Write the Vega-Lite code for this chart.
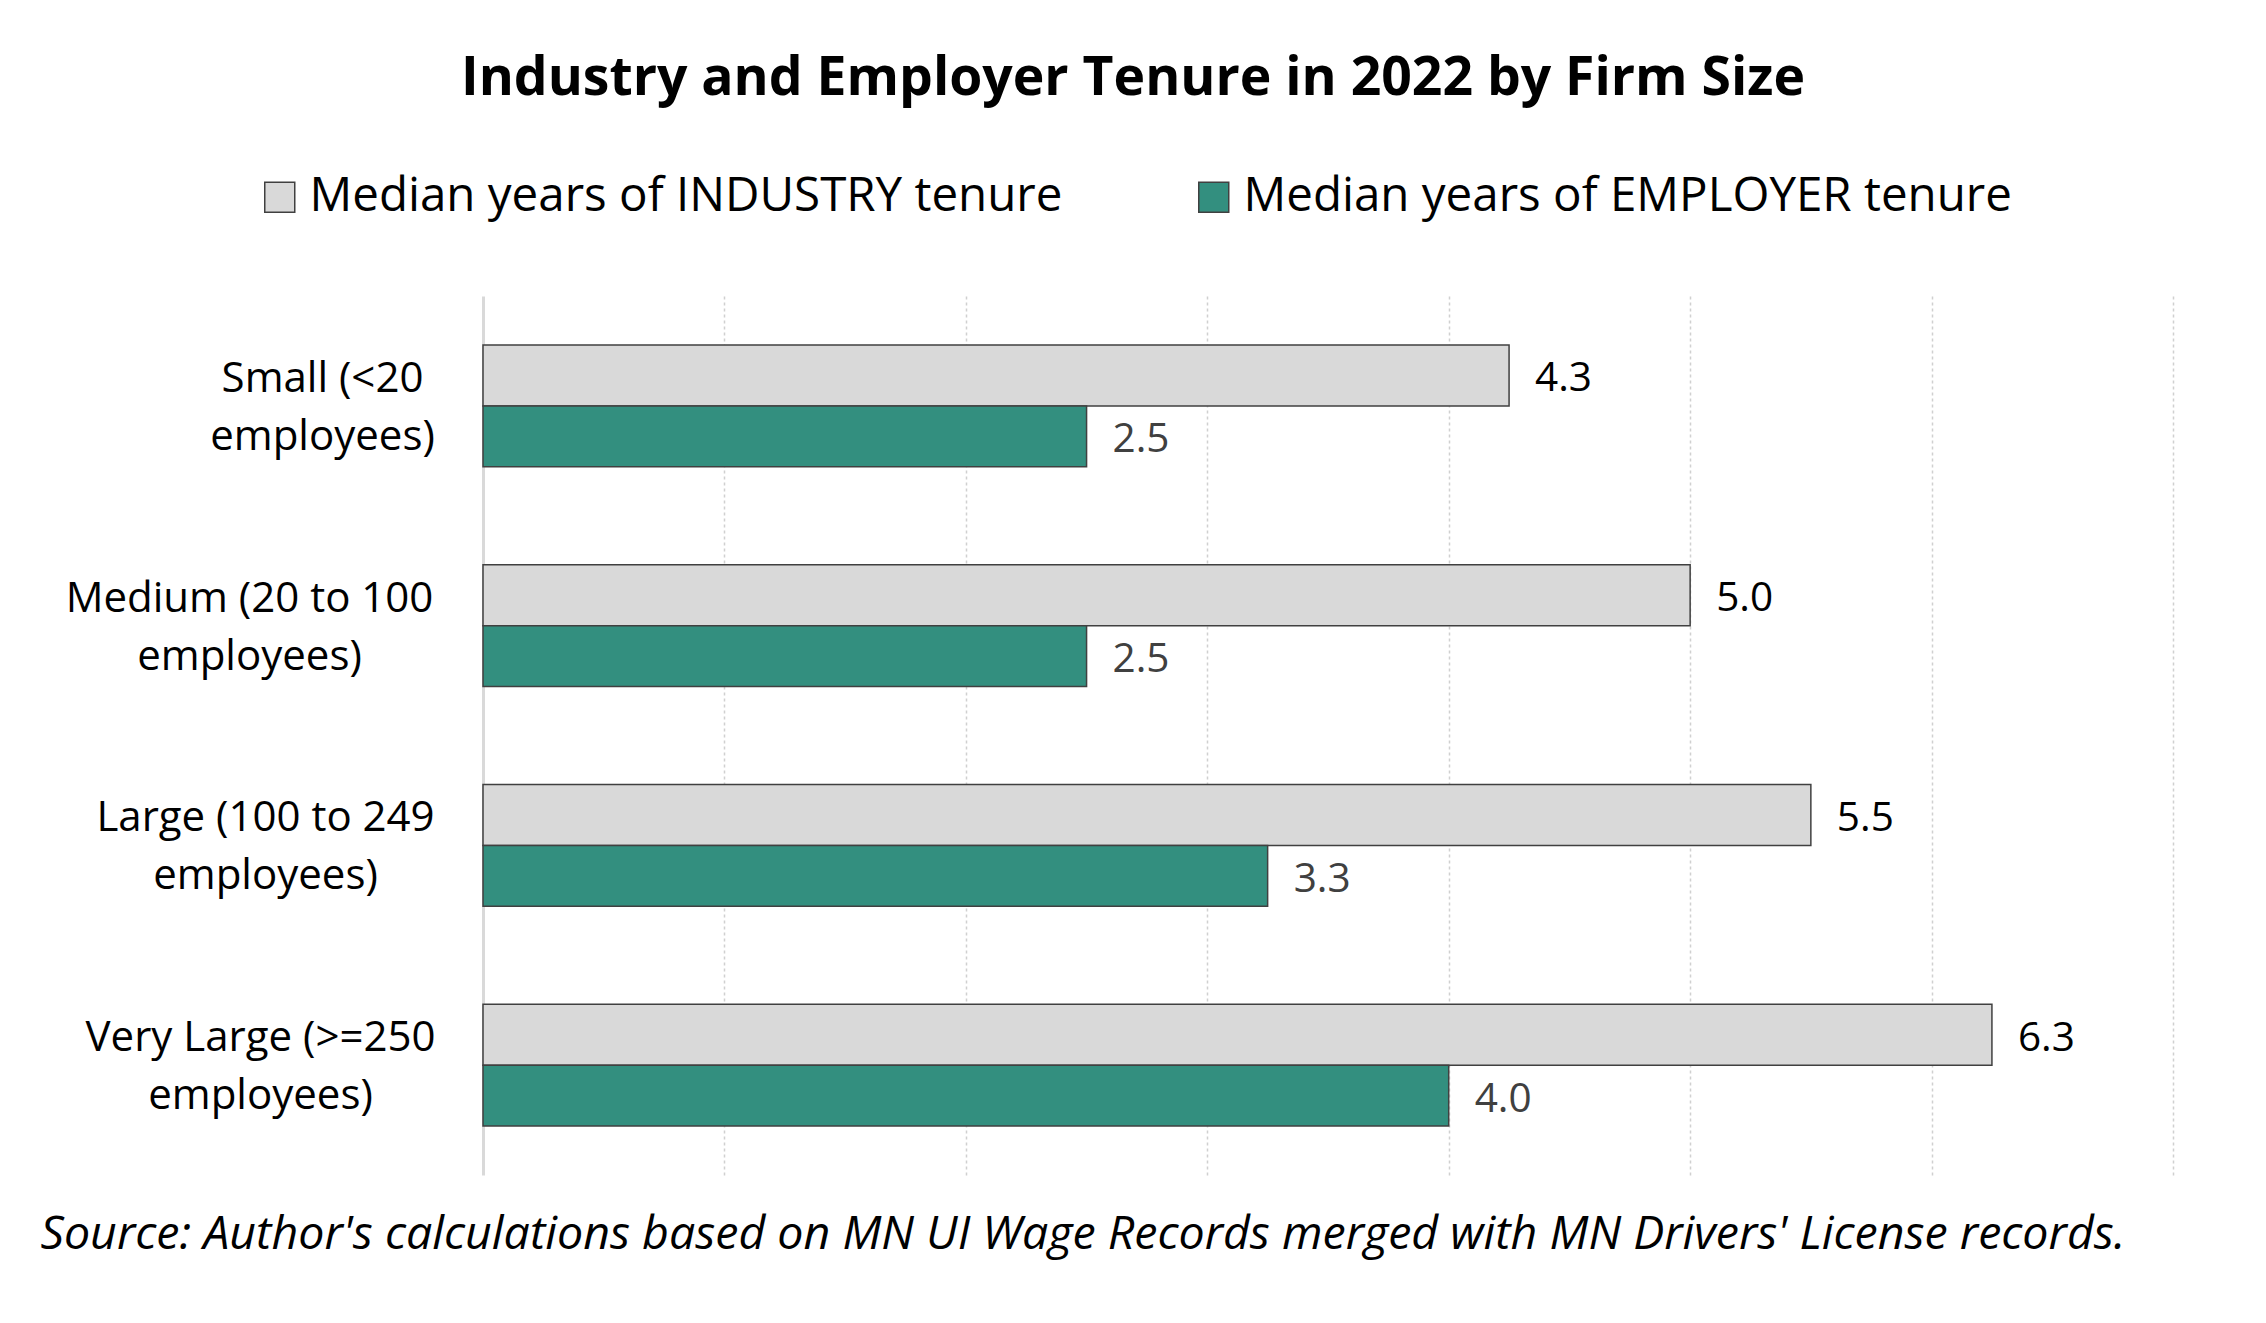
{
  "$schema": "https://vega.github.io/schema/vega-lite/v6.json",
  "width": 1690,
  "height": 879,
  "autosize": {"type": "none"},
  "padding": {"left": 483, "top": 296, "right": 93, "bottom": 148},
  "background": "white",
  "title": {
    "text": "Industry and Employer Tenure in 2022 by Firm Size",
    "font": "Open Sans",
    "fontSize": 53.5,
    "fontWeight": "bold",
    "color": "black",
    "anchor": "middle",
    "frame": "group",
    "dx": -195,
    "baseline": "middle",
    "offset": 41
  },
  "data": {
    "values": [
      {"size": "Small (<20 employees)", "series": "Median years of INDUSTRY tenure", "value": 4.25},
      {"size": "Small (<20 employees)", "series": "Median years of EMPLOYER tenure", "value": 2.5},
      {"size": "Medium (20 to 100 employees)", "series": "Median years of INDUSTRY tenure", "value": 5.0},
      {"size": "Medium (20 to 100 employees)", "series": "Median years of EMPLOYER tenure", "value": 2.5},
      {"size": "Large (100 to 249 employees)", "series": "Median years of INDUSTRY tenure", "value": 5.5},
      {"size": "Large (100 to 249 employees)", "series": "Median years of EMPLOYER tenure", "value": 3.25},
      {"size": "Very Large (>=250 employees)", "series": "Median years of INDUSTRY tenure", "value": 6.25},
      {"size": "Very Large (>=250 employees)", "series": "Median years of EMPLOYER tenure", "value": 4.0}
    ]
  },
  "encoding": {
    "y": {
      "field": "size",
      "type": "nominal",
      "sort": ["Small (<20 employees)", "Medium (20 to 100 employees)", "Large (100 to 249 employees)", "Very Large (>=250 employees)"],
      "scale": {"paddingInner": 0.445, "paddingOuter": 0.2225},
      "axis": {
        "title": null,
        "ticks": false,
        "domain": true,
        "domainColor": "#D9D9D9",
        "domainWidth": 3,
        "labelFont": "Open Sans",
        "labelFontSize": 42,
        "labelColor": "black",
        "labelLineHeight": 58,
        "labelAlign": "center",
        "labelBaseline": "middle",
        "labelOffset": -27,
        "labelLimit": 1000,
        "labelPadding": {
          "condition": [
            {"test": "datum.value == 'Small (<20 employees)'", "value": 161},
            {"test": "datum.value == 'Medium (20 to 100 employees)'", "value": 234},
            {"test": "datum.value == 'Large (100 to 249 employees)'", "value": 218}
          ],
          "value": 223
        },
        "labelExpr": "[substring(datum.label, 0, lastindexof(datum.label, ' ')), substring(datum.label, lastindexof(datum.label, ' ') + 1)]"
      }
    },
    "yOffset": {
      "field": "series",
      "type": "nominal",
      "sort": ["Median years of INDUSTRY tenure", "Median years of EMPLOYER tenure"]
    },
    "x": {
      "field": "value",
      "type": "quantitative",
      "scale": {"domain": [0, 7], "nice": false},
      "axis": {
        "values": [1, 2, 3, 4, 5, 6, 7],
        "labels": false,
        "ticks": false,
        "domain": false,
        "grid": true,
        "gridDash": [3, 3],
        "gridColor": "#D0D0D0",
        "gridWidth": 1.5,
        "title": "Source: Author's calculations based on MN UI Wage Records merged with MN Drivers' License records.",
        "titleFont": "Open Sans",
        "titleFontStyle": "italic",
        "titleFontWeight": "normal",
        "titleFontSize": 46.5,
        "titleColor": "black",
        "titleAnchor": "start",
        "titleAlign": "left",
        "titleBaseline": "middle",
        "titleX": -443,
        "titleY": 59
      }
    }
  },
  "layer": [
    {
      "mark": {"type": "bar", "stroke": "#404040", "strokeWidth": 1.5},
      "encoding": {
        "color": {
          "field": "series",
          "type": "nominal",
          "scale": {
            "domain": ["Median years of INDUSTRY tenure", "Median years of EMPLOYER tenure"],
            "range": ["#D9D9D9", "#338F7F"]
          },
          "legend": {
            "orient": "none",
            "direction": "horizontal",
            "legendX": -227,
            "legendY": -123,
            "title": null,
            "padding": 0,
            "symbolType": "square",
            "symbolSize": 900,
            "symbolStrokeColor": "#404040",
            "symbolStrokeWidth": 1.5,
            "labelFont": "Open Sans",
            "labelFontSize": 47.5,
            "labelColor": "black",
            "labelOffset": 6,
            "labelLimit": 1000,
            "columnPadding": 127
          }
        }
      }
    },
    {
      "mark": {"type": "text", "align": "left", "baseline": "middle", "dx": 26, "dy": 4, "font": "Open Sans", "fontSize": 40.5},
      "encoding": {
        "text": {"field": "value", "type": "quantitative", "format": ".1f"},
        "color": {
          "condition": {"test": "datum.series == 'Median years of INDUSTRY tenure'", "value": "#000000"},
          "value": "#404040"
        }
      }
    }
  ],
  "config": {
    "view": {"stroke": null},
    "font": "Open Sans"
  }
}
